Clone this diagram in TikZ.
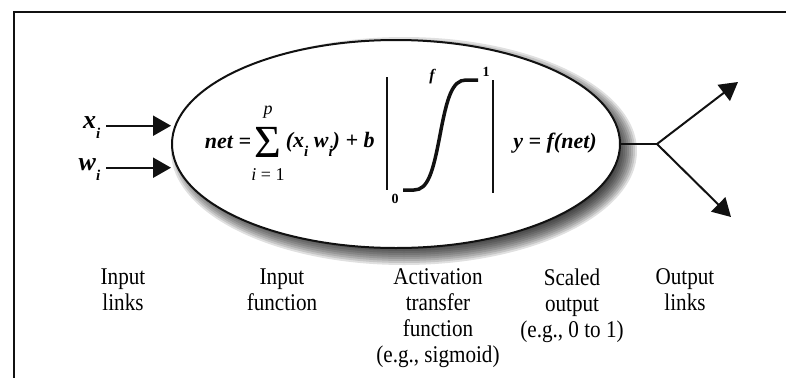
\documentclass[tikz,border=0pt]{standalone}
\usepackage{fontspec}
\setmainfont{Liberation Serif}
\newfontfamily\estrecha[FakeStretch=0.88]{Liberation Serif}
\usetikzlibrary{positioning, arrows.meta, shapes.geometric}
\definecolor{tinta}{HTML}{111111}
\definecolor{sombra}{HTML}{000000}
\newcommand{\bajo}[1]{\raisebox{-0.4em}{\fontsize{15}{15}\selectfont #1}}

\begin{document}
\begin{tikzpicture}[x=1pt, y=-1pt, line width=1.5pt, draw=tinta,
    rotulo/.style={font=\estrecha\fontsize{24}{26}\selectfont, align=center, anchor=north, inner sep=0pt},
    formula/.style={font=\fontsize{22}{24}\selectfont\bfseries\itshape, inner sep=0pt},
    entrada/.style={font=\fontsize{26}{28}\selectfont\bfseries\itshape, inner sep=0pt},
    flecha/.style={line width=2pt, -{Triangle[length=18pt, width=20pt]}}]
  \useasboundingbox (0,0) rectangle (786,378);
  % marco
  \draw (786,12) -- (14,12) -- (14,378);
  % sombra difusa
  \foreach \k in {0,...,9} {
    \fill[sombra, opacity=0.12] (404,151) ellipse ({215+\k*2} and {96+\k*2});
  }
  \node[ellipse, draw, line width=2pt, fill=white, minimum width=448pt,
        minimum height=208pt, inner sep=0pt] (neurona) at (396,144) {};

  % entradas
  \node[entrada, anchor=base east] (xi) at (101,128) {x\bajo{i}};
  \node[entrada, anchor=base east] (wi) at (101,170) {w\bajo{i}};
  \draw[flecha] ([xshift=5pt]xi.mid east) -- (xi.mid east -| neurona.west);
  \draw[flecha] ([xshift=5pt]wi.mid east) -- (wi.mid east -| neurona.west);

  % funcion de entrada
  \node[inner sep=0pt, font=\fontsize{46}{46}\selectfont] (sigma) at (268,142) {Σ};
  \node[formula, anchor=east] (net) at ([xshift=-2pt]sigma.west) {net =};
  \node[inner sep=0pt, font=\fontsize{18}{18}\selectfont\itshape, above=7pt of sigma] (limsup) {p};
  \node[inner sep=0pt, font=\fontsize{18}{18}\selectfont, below=10pt of sigma] (liminf) {\textit{i} = 1};
  \node[formula, right=3pt of sigma, yshift=-2pt] (suma) {(x\bajo{i} w\bajo{i}) + b};

  % funcion de activacion
  \draw (387,77) -- (387,190);
  \draw (493,80) -- (493,193);
  \draw[line width=3.5pt] (403,190) -- (414,190)
    .. controls (428,190) and (433,172) .. (440,135)
    .. controls (447,98) and (452,80) .. (466,80) -- (478,80);
  \node[inner sep=0pt, font=\fontsize{14}{14}\selectfont\bfseries] (cero) at (395,199) {0};
  \node[inner sep=0pt, font=\fontsize{14}{14}\selectfont\bfseries] (uno) at (486,72) {1};
  \node[inner sep=0pt, font=\fontsize{16}{16}\selectfont\bfseries\itshape] (efe) at (432,77) {f};

  % salida
  \node[formula] (salida) at (555,143) {y = f(net)};
  \coordinate (nudo) at (657,144);
  \coordinate (salida1) at (738,82);
  \coordinate (salida2) at (731,217);
  \draw (neurona.east) -- (nudo);
  \draw[flecha] (nudo) -- (salida1);
  \draw[flecha] (nudo) -- (salida2);

  % rotulos
  \foreach \x/\t [count=\n] in {123/{Input\\links}, 282/{Input\\function},
      438/{Activation\\transfer\\function\\(e.g., sigmoid)},
      572/{Scaled\\output\\(e.g., 0 to 1)}, 685/{Output\\links}} {
    \node[rotulo] (rotulo\n) at (\x,268) {\t};
  }
\end{tikzpicture}
\end{document}
